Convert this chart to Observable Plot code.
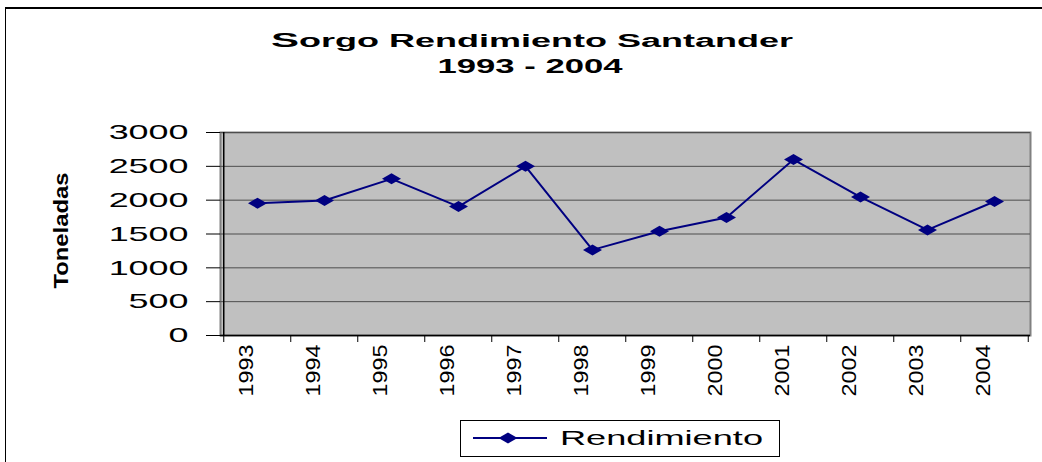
<!DOCTYPE html>
<html>
<head>
<meta charset="utf-8">
<script src="https://cdn.jsdelivr.net/npm/d3@7"></script>
<script src="https://cdn.jsdelivr.net/npm/@observablehq/plot@0.6"></script>
<style>
  html, body { margin: 0; padding: 0; background: white; }
  #wrap { position: relative; width: 1042px; height: 462px; overflow: hidden; background: white; font-family: "Liberation Sans", Arial, sans-serif; }
  #wrap svg { display: block; }
  #border { position: absolute; left: 5px; top: 7px; width: 1040px; height: 460px; border-top: 2px solid #000; border-left: 1px solid #000; pointer-events: none; }
</style>
</head>
<body>
<div id="wrap">
  <svg id="title" width="1042" height="110">
    <text x="532" y="47" text-anchor="middle" font-family="Liberation Sans, Arial, sans-serif" font-weight="bold" font-size="18" textLength="522" lengthAdjust="spacingAndGlyphs"><tspan font-size="21">S</tspan>orgo Rendimiento Santander</text>
    <text x="530" y="73" text-anchor="middle" font-family="Liberation Sans, Arial, sans-serif" font-weight="bold" font-size="20.5" textLength="185" lengthAdjust="spacingAndGlyphs">1993 - 2004</text>
  </svg>
  <div id="chart"></div>
  <svg id="legend" width="1042" height="52">
    <rect x="460.5" y="10.5" width="319" height="36" fill="white" stroke="#000" stroke-width="1"></rect>
    <line x1="473" y1="28" x2="547" y2="28" stroke="#000080" stroke-width="2"></line>
    <path d="M498.5,28L508,22.5L517.5,28L508,33.5Z" fill="#000080"></path>
    <text x="560" y="35" font-family="Liberation Sans, Arial, sans-serif" font-size="21" textLength="203" lengthAdjust="spacingAndGlyphs">Rendimiento</text>
  </svg>
  <div id="border"></div>
</div>
<script>
// ---- data ----
const years = ["1993","1994","1995","1996","1997","1998","1999","2000","2001","2002","2003","2004"];
const rendimiento = [1955, 1995, 2315, 1905, 2500, 1265, 1540, 1745, 2600, 2045, 1560, 1980];
const yTicks = [0, 500, 1000, 1500, 2000, 2500, 3000];
const yLabel = "Toneladas";

const data = years.map((y, i) => ({year: y, value: rendimiento[i]}));

const wideDiamond = {
  draw(ctx) {
    const w = 9.5, h = 5.5;
    ctx.moveTo(-w, 0); ctx.lineTo(0, -h); ctx.lineTo(w, 0); ctx.lineTo(0, h); ctx.closePath();
  }
};

const half = (1042 - 220 - 12) / years.length / 2;

const chart = Plot.plot({
  width: 1042,
  height: 300,
  marginTop: 22,
  marginBottom: 75,
  marginLeft: 220,
  marginRight: 12,
  style: {fontFamily: "Liberation Sans, Arial, sans-serif", background: "transparent", color: "black", overflow: "visible"},
  x: {type: "point", domain: years, padding: 0.5},
  y: {domain: [0, 3000]},
  marks: [
    Plot.frame({fill: "#c0c0c0", stroke: "#808080", strokeWidth: 2}),
    Plot.gridY(yTicks, {stroke: "#4d4d4d", strokeOpacity: 1, strokeWidth: 1}),
    Plot.ruleY([0], {stroke: "black", strokeWidth: 1.5}),
    Plot.ruleX([years[0]], {dx: -half, stroke: "black", strokeWidth: 1.5}),
    Plot.axisY(yTicks, {tickSize: 14, tickPadding: 18, fontSize: 21, tickFormat: d3.format("d"), label: null, stroke: "black"}),
    Plot.axisX({tickSize: 7, tickFormat: () => "", dx: -half, label: null, stroke: "black"}),
    Plot.axisX([years[years.length - 1]], {tickSize: 7, tickFormat: () => "", dx: half, label: null, stroke: "black"}),
    Plot.axisX({tickSize: 0, tickPadding: 9, tickRotate: -90, fontSize: 20, dx: -11, label: null}),
    Plot.text([yLabel], {frameAnchor: "left", dx: -153, dy: -3.5, rotate: -90, lineAnchor: "bottom", textAnchor: "middle", fontWeight: "bold", fontSize: 21}),
    Plot.line(data, {x: "year", y: "value", stroke: "#000080", strokeWidth: 2}),
    Plot.dot(data, {x: "year", y: "value", symbol: wideDiamond, fill: "#000080", stroke: "none", r: 5})
  ]
});
document.getElementById("chart").appendChild(chart);

// horizontal stretch of the text, as in the reference rendering
chart.querySelectorAll("text").forEach(el => {
  const g = el.closest("g[aria-label]");
  const lab = g ? g.getAttribute("aria-label") : "";
  const L = el.getComputedTextLength();
  if (!(L > 0)) return;
  let f = null;
  if (lab === "y-axis tick label") f = 1.71;
  else if (lab === "x-axis tick label") f = 1.17;
  else if (el.textContent === yLabel) { el.setAttribute("textLength", 116); el.setAttribute("lengthAdjust", "spacingAndGlyphs"); return; }
  if (f) { el.setAttribute("textLength", L * f); el.setAttribute("lengthAdjust", "spacingAndGlyphs"); }
});
</script>
</body>
</html>
